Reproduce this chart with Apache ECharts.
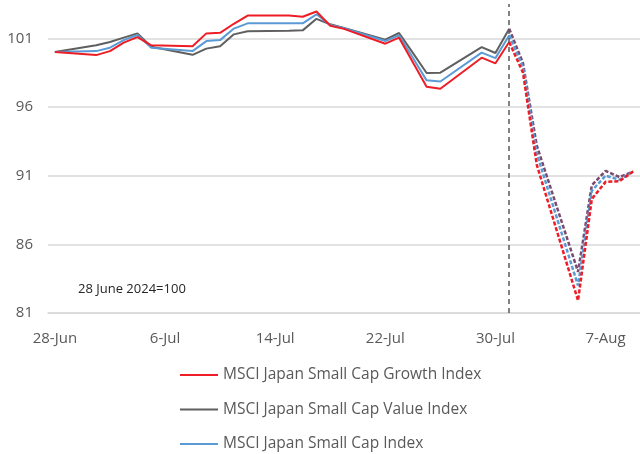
<!DOCTYPE html>
<html>
<head>
<meta charset="utf-8">
<script src="https://cdn.jsdelivr.net/npm/echarts@6/dist/echarts.min.js"></script>
<style>
  html, body { margin: 0; padding: 0; background: #fff; }
  #chart { width: 640px; height: 454px; }
</style>
</head>
<body>
<div id="chart"></div>
<script>
// calendar days, weekends/holidays are null and get bridged
const dates = [
  '28-Jun', '29-Jun', '30-Jun', '1-Jul', '2-Jul', '3-Jul', '4-Jul', '5-Jul', '6-Jul', '7-Jul',
  '8-Jul', '9-Jul', '10-Jul', '11-Jul', '12-Jul', '13-Jul', '14-Jul', '15-Jul', '16-Jul', '17-Jul',
  '18-Jul', '19-Jul', '20-Jul', '21-Jul', '22-Jul', '23-Jul', '24-Jul', '25-Jul', '26-Jul', '27-Jul',
  '28-Jul', '29-Jul', '30-Jul', '31-Jul', '1-Aug', '2-Aug', '3-Aug', '4-Aug', '5-Aug', '6-Aug',
  '7-Aug', '8-Aug', '9-Aug'
];

const growth = [
  100, null, null, 99.78, 100.07, 100.69, 101.09, 100.49, null, null,
  100.42, 101.36, 101.40, 102.06, 102.66, null, null, 102.66, 102.57, 102.95,
  101.92, 101.69, null, null, 100.61, 101.05, 99.26, 97.48, 97.33, null,
  null, 99.59, 99.18, 100.73, 98.5, 91.8, null, null, 81.9, 89.3,
  90.55, 90.6, 91.3
];
const value = [
  100, null, null, 100.49, 100.73, 101.05, 101.36, 100.39, null, null,
  99.80, 100.25, 100.42, 101.29, 101.52, null, null, 101.55, 101.58, 102.42,
  102.02, 101.76, null, null, 100.90, 101.39, 99.94, 98.48, 98.50, null,
  null, 100.36, 99.93, 101.70, 99.2, 93.2, null, null, 84.0, 90.3,
  91.35, 90.9, 91.3
];
const smallCap = [
  100, null, null, 100.07, 100.32, 100.87, 101.24, 100.32, null, null,
  100.07, 100.80, 100.87, 101.71, 102.09, null, null, 102.09, 102.09, 102.75,
  101.98, 101.73, null, null, 100.80, 101.22, 99.58, 97.94, 97.86, null,
  null, 99.96, 99.56, 101.22, 98.9, 92.6, null, null, 83.0, 89.9,
  91.0, 90.7, 91.3
];

const names = [
  'MSCI Japan Small Cap Growth Index',
  'MSCI Japan Small Cap Value Index',
  'MSCI Japan Small Cap Index'
];
const markDate = '31-Jul';
const splitAt = dates.indexOf(markDate);

// solid part up to 31-Jul, dashed from 31-Jul on
const before = arr => arr.map((v, i) => (i <= splitAt ? v : null));
const after = arr => arr.map((v, i) => (i >= splitAt ? v : null));

function solid(name, data, color, z) {
  return {
    name: name, type: 'line', data: before(data), connectNulls: true,
    symbol: 'none', z: z, lineStyle: { color: color, width: 2 }, itemStyle: { color: color }
  };
}
function dashed(name, data, color, z) {
  return {
    name: name + ' ', type: 'line', data: after(data), connectNulls: true,
    symbol: 'none', z: z, lineStyle: { color: color, width: 2.5, type: [4, 2] }, itemStyle: { color: color }
  };
}

const chart = echarts.init(document.getElementById('chart'));

const option = {
  animation: false,
  textStyle: { fontFamily: 'Open Sans' },
  grid: { left: 48, right: 0, top: 4, bottom: 141 },
  legend: {
    data: names,
    orient: 'vertical',
    left: 180,
    top: 367,
    padding: 0,
    icon: 'rect',
    itemWidth: 38,
    itemHeight: 2,
    itemGap: 18.5,
    textStyle: { color: '#595959', fontSize: 15.5, fontFamily: 'Open Sans' }
  },
  xAxis: {
    type: 'category',
    data: dates,
    boundaryGap: true,
    axisLine: { lineStyle: { color: '#d9d9d9', width: 1.5 } },
    axisTick: { show: false },
    axisLabel: { interval: 7, color: '#595959', fontSize: 15, margin: 18 }
  },
  yAxis: {
    type: 'value',
    min: 81,
    max: 103.5,
    interval: 5,
    axisLine: { show: false },
    axisTick: { show: false },
    axisLabel: { color: '#595959', fontSize: 15, margin: 15, showMaxLabel: false },
    splitLine: { showMaxLine: false, lineStyle: { color: '#d9d9d9', width: 1.5 } }
  },
  graphic: [{
    type: 'text', left: 78, top: 283,
    style: { text: '28 June 2024=100', fill: '#262626', fontSize: 13, fontFamily: 'Open Sans' }
  }],
  series: [
    Object.assign(solid(names[1], value, '#5f5f5f', 2), {
      markLine: {
        silent: true, symbol: 'none', label: { show: false },
        lineStyle: { color: '#595959', type: [5, 4], width: 1.5 },
        data: [{ xAxis: markDate }]
      }
    }),
    solid(names[2], smallCap, '#5b9bd5', 3),
    solid(names[0], growth, '#ee1c25', 4),
    dashed(names[1], value, '#7a4a6e', 2),
    dashed(names[2], smallCap, '#5b9bd5', 3),
    dashed(names[0], growth, '#ee1c25', 4)
  ]
};

chart.setOption(option);
window.addEventListener('resize', () => {
  chart.resize();
});
</script>
</body>
</html>
